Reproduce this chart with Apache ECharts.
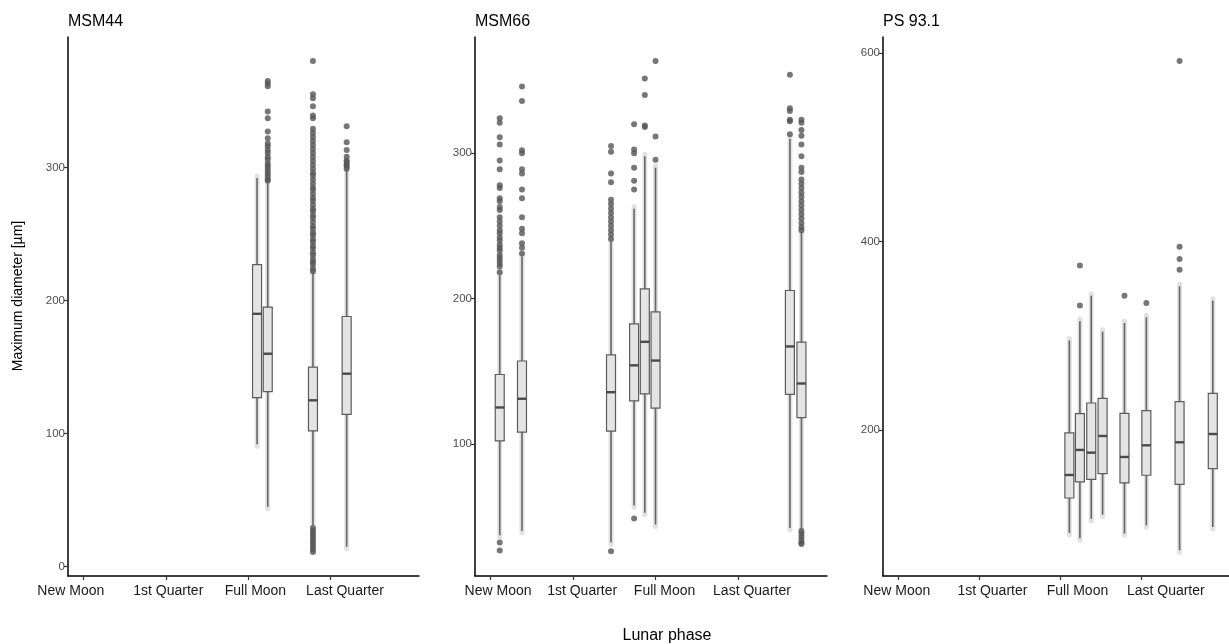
<!DOCTYPE html>
<html>
<head>
<meta charset="utf-8">
<title>Maximum diameter by lunar phase</title>
<script src="https://cdn.jsdelivr.net/npm/echarts@6/dist/echarts.min.js"></script>
<style>
  html, body { margin: 0; padding: 0; background: #fff; }
  #main { width: 1229px; height: 644px; }
</style>
</head>
<body>
<div id="main"></div>
<script>
// tick labels of the lunar phase axis (0 = New Moon, 1 = 1st Quarter ...)
var phaseTicks = [0, 1, 2, 3];
var phaseLabels = ['New Moon', '1st Quarter', 'Full Moon', 'Last Quarter'];

// boxes: [phase, lower whisker, Q1, median, Q3, upper whisker]
var msm44Boxes = [
  [2.11, 92, 127, 190, 227, 292],
  [2.24, 45, 131.5, 160, 195, 288],
  [2.79, 31, 102, 125, 150, 221],
  [3.20, 15, 114.5, 145, 188, 298]
];
// outliers: [phase, [values]]
var msm44Outliers = [
  [2.24, [290, 291, 293, 295, 297, 299, 301, 303, 306, 308, 311, 313, 316, 318, 322, 327, 337, 342, 361, 363, 365]],
  [2.79, [11, 13, 15, 17, 19, 21, 23, 25, 27, 29, 222, 224, 227, 229, 231, 234, 236, 239, 241, 244, 246, 249, 251,
          254, 256, 259, 262, 264, 267, 269, 272, 275, 277, 280, 283, 285, 288, 291, 294, 296, 299, 302, 305, 308,
          311, 314, 317, 320, 323, 326, 329, 337, 339, 346, 352, 355, 380]],
  [3.20, [299, 301, 302, 304, 305, 308, 313, 319, 331]]
];

var msm66Boxes = [
  [0.11, 37, 102, 125, 147.7, 216],
  [0.38, 40, 108, 131, 157, 229],
  [1.46, 32, 108.7, 135.5, 161.2, 239],
  [1.74, 57.5, 129.6, 154, 182.6, 261.7],
  [1.87, 52.5, 134.4, 170.2, 206.7, 298],
  [2.00, 44.5, 124.5, 157.3, 190.8, 290],
  [3.63, 42, 134, 167, 205.5, 310],
  [3.77, 41, 118, 141.5, 170, 246]
];
var msm66Outliers = [
  [0.11, [26.5, 32, 218, 222, 224, 226, 228, 230, 233, 235, 237, 240, 242, 245, 247, 250, 253, 256, 261, 263, 267, 269,
          276, 278, 289, 295, 306, 311, 321, 324]],
  [0.38, [231, 235, 238, 245, 248, 256, 269, 275, 286, 289, 300, 302, 336, 346]],
  [1.46, [26, 241, 244, 247, 250, 253, 256, 259, 262, 265, 268, 280, 286, 301, 305]],
  [1.74, [48.5, 275, 281, 290, 300, 302.5, 320]],
  [1.87, [318, 319, 340, 351.5]],
  [2.00, [295.5, 311.5, 363.5]],
  [3.63, [313, 322, 323, 329, 331, 354]],
  [3.77, [31, 32, 34, 36, 38, 40, 247, 249, 252, 255, 258, 261, 264, 267, 270, 273, 276, 279, 282, 287, 290, 298,
          306, 312, 316, 321, 323]]
];

var ps931Boxes = [
  [2.11, 90.7, 127.8, 152.2, 196.8, 295],
  [2.24, 85, 144.8, 178.8, 217.3, 315.3],
  [2.38, 105.6, 147.6, 175.9, 228.6, 342.5],
  [2.52, 110.1, 153.6, 193.6, 233.5, 304.3],
  [2.79, 90, 143.8, 171.3, 217.6, 313.5],
  [3.06, 98.8, 151.9, 183.7, 220.5, 319.5],
  [3.47, 72.3, 142.3, 186.9, 230, 352.4],
  [3.88, 97, 158.9, 195.7, 238.9, 337.2]
];
var ps931Outliers = [
  [2.24, [332, 374.5]],
  [2.79, [342.5]],
  [3.06, [334.7]],
  [3.47, [370, 381.5, 394.5, 591.5]]
];

var panels = [
  { title: 'MSM44', boxes: msm44Boxes, outliers: msm44Outliers,
    left: 68, right: 810, yMin: -7, yMax: 398, yTicks: [0, 100, 200, 300],
    labelAt: [-0.156, 1.03, 2.09, 3.18] },
  { title: 'MSM66', boxes: msm66Boxes, outliers: msm66Outliers,
    left: 475, right: 402, yMin: 9, yMax: 380, yTicks: [100, 200, 300],
    labelAt: [0.09, 1.11, 2.11, 3.17] },
  { title: 'PS 93.1', boxes: ps931Boxes, outliers: ps931Outliers,
    left: 883, right: -5, yMin: 45, yMax: 617, yTicks: [200, 400, 600],
    labelAt: [-0.02, 1.16, 2.21, 3.30] }
];

var FONT = '"Liberation Sans", Arial, sans-serif';

function flatOutliers(list) {
  var pts = [];
  list.forEach(function (o) {
    o[1].forEach(function (v) { pts.push([o[0], v]); });
  });
  return pts;
}

function renderBox(params, api) {
  var x = api.value(0);
  var pMin = api.coord([x, api.value(1)]);
  var pQ1 = api.coord([x, api.value(2)]);
  var pMed = api.coord([x, api.value(3)]);
  var pQ3 = api.coord([x, api.value(4)]);
  var pMax = api.coord([x, api.value(5)]);
  var half = 4.5;
  return {
    type: 'group',
    children: [
      { type: 'line', shape: { x1: pMin[0], y1: pMin[1] + 2, x2: pMax[0], y2: pMax[1] - 2 },
        style: { stroke: 'rgba(190,190,190,0.45)', lineWidth: 5, lineCap: 'round' } },
      { type: 'line', shape: { x1: pMin[0], y1: pMin[1], x2: pMax[0], y2: pMax[1] },
        style: { stroke: '#666', lineWidth: 1.6 } },
      { type: 'rect', shape: { x: pQ3[0] - half, y: pQ3[1], width: half * 2, height: pQ1[1] - pQ3[1] },
        style: { fill: '#e4e4e4', stroke: '#5c5c5c', lineWidth: 1.2 } },
      { type: 'line', shape: { x1: pMed[0] - half, y1: pMed[1], x2: pMed[0] + half, y2: pMed[1] },
        style: { stroke: '#4a4a4a', lineWidth: 2.4 } }
    ]
  };
}

var grids = [], xAxes = [], yAxes = [], series = [], graphics = [];

panels.forEach(function (p, i) {
  grids.push({ left: p.left, right: p.right, top: 37, bottom: 68 });
  xAxes.push({
    type: 'value', gridIndex: i, min: -0.19, max: 4.08,
    axisLine: { show: true, onZero: false, lineStyle: { color: '#000', width: 1.5 } },
    axisTick: { show: true, length: 4, lineStyle: { color: '#333', width: 1.2 }, customValues: phaseTicks },
    axisLabel: {
      customValues: p.labelAt,
      formatter: function (v) {
        var k = p.labelAt.indexOf(v);
        return k >= 0 ? phaseLabels[k] : '';
      },
      color: '#1a1a1a', fontSize: 14, fontFamily: FONT, margin: 8
    },
    splitLine: { show: false }
  });
  yAxes.push({
    type: 'value', gridIndex: i, min: p.yMin, max: p.yMax,
    axisLine: { show: true, onZero: false, lineStyle: { color: '#000', width: 1.5 } },
    axisTick: { show: true, length: 4, lineStyle: { color: '#333', width: 1.2 }, customValues: p.yTicks },
    axisLabel: { customValues: p.yTicks, color: '#4d4d4d', fontSize: 11.5, fontFamily: FONT, margin: 3 },
    splitLine: { show: false }
  });
  series.push({
    type: 'custom', xAxisIndex: i, yAxisIndex: i,
    renderItem: renderBox,
    encode: { x: 0, y: [1, 2, 3, 4, 5] },
    data: p.boxes,
    silent: true
  });
  series.push({
    type: 'scatter', xAxisIndex: i, yAxisIndex: i,
    symbolSize: 6,
    itemStyle: { color: '#555' },
    data: flatOutliers(p.outliers),
    silent: true
  });
  graphics.push({
    type: 'text', left: p.left, top: 14,
    style: { text: p.title, fontSize: 16, fontFamily: FONT, fill: '#000' }
  });
});

graphics.push({
  type: 'text', x: 18, y: 296, rotation: Math.PI / 2,
  style: { text: 'Maximum diameter [\u00b5m]', fontSize: 14, fontFamily: FONT, fill: '#000',
           align: 'center', verticalAlign: 'middle' }
});
graphics.push({
  type: 'text', x: 667, y: 636,
  style: { text: 'Lunar phase', fontSize: 16, fontFamily: FONT, fill: '#000',
           align: 'center', verticalAlign: 'middle' }
});

var myChart = echarts.init(document.getElementById('main'));
myChart.setOption({
  backgroundColor: '#fff',
  animation: false,
  grid: grids,
  xAxis: xAxes,
  yAxis: yAxes,
  series: series,
  graphic: graphics
});
</script>
</body>
</html>
